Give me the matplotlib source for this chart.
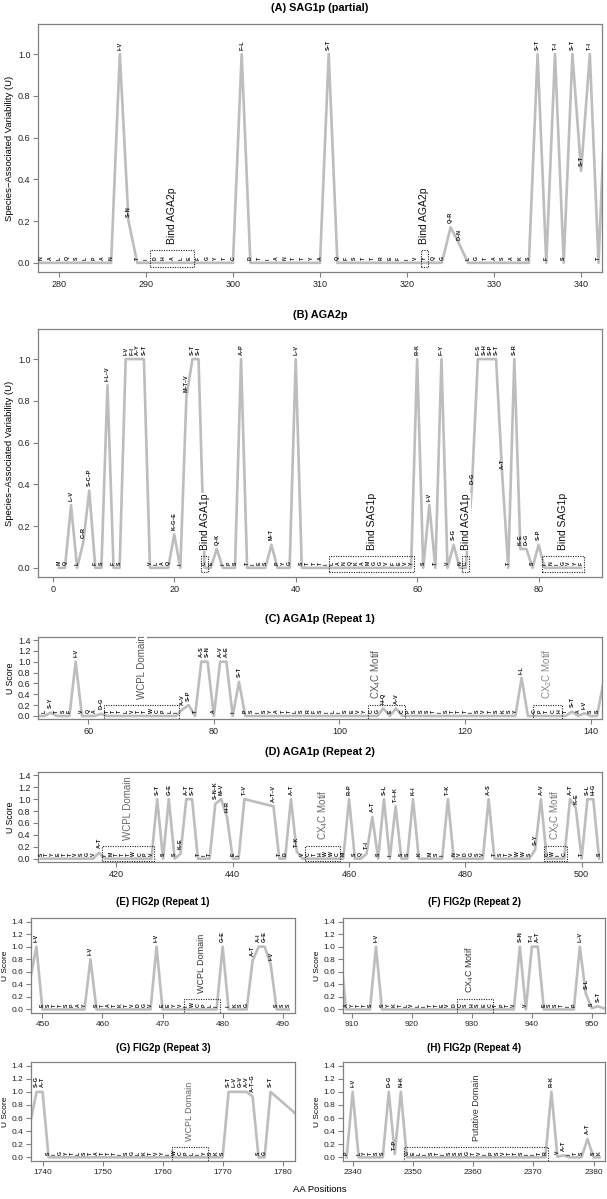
"""Species-associated variability (U) along SAG1p, AGA2p, AGA1p and FIG2p."""

import matplotlib
matplotlib.use("Agg")
import matplotlib.pyplot as plt
import matplotlib.transforms as mtransforms
from matplotlib.patches import Rectangle

plt.rcParams["font.family"] = ["Liberation Sans", "DejaVu Sans"]
plt.rcParams["mathtext.default"] = "regular"

# residues: "." = nothing drawn, "X–Y" = substitution label above the line

# (A) SAG1p (partial), positions 277..343
A_START = 277
A_RES = (". N A L Q S L P A N I–V S–N T I D H A L E F G Y T C F–L D T I A N T T Y A S–T "
         "Q F S T T R E F I V Y Q G Q–R D–N L G T A S A K S S–T F T–I S S–T S–T T–I T .").split()
A_U = [0, 0, 0, 0, 0, 0, 0, 0, 0, 0, 1.0, 0.2,
       0, 0, 0, 0, 0, 0, 0, 0, 0, 0, 0, 0, 1.0,
       0, 0, 0, 0, 0, 0, 0, 0, 0, 1.0,
       0, 0, 0, 0, 0, 0, 0, 0, 0, 0, 0, 0, 0, 0.17, 0.09,
       0, 0, 0, 0, 0, 0, 0, 0,
       1.0, 0, 1.0, 0, 1.0, 0.44, 1.0, 0, 1.0]
A_BOX = [(290.5, 295.5), (321.55, 322.45)]
A_BOX_LAB = ["Bind AGA2p", "Bind AGA2p"]

# (B) AGA2p, positions 1..87
B_START = 1
B_RES = ("M Q L–V L C–R S–C–P F S I–L–V F S I–V F–I A–Y S–T V L A Q K–G–E I M–T–V S–T S–I "
         "C E Q–K I P S A–P T I E S M–T P Y G L–V S T T T I L A N Q K A M G G V F E V Y "
         "R–K S I–V T F–Y V S–G N C D–G F–S S–H S–P S–T A–T T S–R K–E D–G S S–P "
         "I N I G V Y F").split()
B_U = [0, 0, 0.30, 0, 0.12, 0.37, 0, 0, 0.875, 0,
       0, 1.0, 1.0, 1.0, 1.0, 0, 0, 0, 0, 0.16,
       0, 0.82, 1.0, 1.0, 0, 0, 0.09, 0, 0, 0,
       1.0, 0, 0, 0, 0, 0.11, 0, 0, 0, 1.0,
       0, 0, 0, 0, 0,
       0, 0, 0, 0, 0, 0, 0, 0, 0, 0, 0, 0, 0, 0,
       1.0, 0, 0.30, 0, 1.0, 0, 0.11, 0, 0, 0.38,
       1.0, 1.0, 1.0, 1.0, 0.45, 0, 1.0, 0.09, 0.09, 0,
       0.11, 0, 0, 0, 0, 0, 0, 0]
B_BOX = [(24.45, 25.55), (45.5, 59.5), (67.45, 68.55), (80.5, 87.5)]
B_BOX_LAB = ["Bind AGA1p", "Bind SAG1p", "Bind AGA1p", "Bind SAG1p"]

# (C) AGA1p repeat 1, positions 52..142
C_START = 52
C_RES = (". L S–Y T S F I–V V Q A D–G T T T L V T T W C P L I A–V S–P T A–S S–N A A–V A–E "
         "I S–T P S I S Y A T T L S R F S I L I S E V Y C G H–Q E A–V C "
         "P S S S T I S T T T I S V T S K S Y I–L . C P T C H T S–T A I–V S S .").split()
C_U = [0, 0, 0.06, 0, 0, 0, 1.0, 0, 0, 0, 0.04,
       0, 0, 0, 0, 0, 0, 0, 0, 0, 0, 0, 0,
       0.12, 0.2, 0, 1.0, 1.0, 0, 1.0, 1.0, 0, 0.63, 0,
       0, 0, 0, 0, 0, 0, 0, 0, 0, 0, 0, 0, 0, 0, 0, 0, 0, 0, 0,
       0, 0, 0.14, 0, 0.14, 0,
       0, 0, 0, 0, 0, 0, 0, 0, 0, 0, 0, 0, 0, 0, 0, 0, 0, 0,
       0.7, 0, 0, 0, 0, 0, 0, 0, 0.08, 0, 0.05, 0, 0, 0.6]
C_BOX = [(62.5, 74.5), (104.6, 110.5), (130.8, 135.4)]
C_BOX_LAB = ["WCPL Domain", "CX$_4$C Motif", "CX$_2$C Motif"]

# (D) AGA1p repeat 2, positions 407..503 (443-446 not aligned)
D_START = 407
D_RES = ("S T Y E T T V S G V A–T I M T T T W C P V S–T S G–E S K–E A–T S–T T I T "
         "S–N–K M–V H–R E I T–V . . . . A–T–V T D A–T T–K V C T H W W C M R–P S Q T–I "
         "A–T S S–L I T–I–K S S K–I K . M S I T–K N V D G S V A–S T S T V W W S S–Y "
         "A–V C W I C A–T K–E T S–L H–G S").split()
D_U = [0, 0, 0, 0, 0, 0, 0, 0, 0, 0, 0.1,
       0, 0, 0, 0, 0, 0, 0, 0, 0,
       1.0, 0, 1.0, 0, 0.08, 1.0, 1.0, 0, 0, 0, 0.92, 1.0, 0.7, 0, 0, 1.0,
       None, None, None, None,
       0.88, 0, 0, 1.0, 0.12, 0,
       0, 0, 0, 0, 0, 0,
       0, 1.0, 0, 0, 0.08, 0.7, 0, 1.0, 0, 0.88, 0, 0, 1.0, 0, 0, 0, 0, 0, 1.0,
       0, 0, 0, 0, 0, 0, 1.0, 0, 0, 0, 0, 0, 0, 0,
       0.15, 1.0, 0, 0, 0, 0, 1.0, 0.85, 0, 1.0, 1.0, 0]
D_BOX = [(417.5, 426.5), (452.5, 458.5), (493.5, 497.5)]
D_BOX_LAB = ["WCPL Domain", "CX$_4$C Motif", "CX$_2$C Motif"]

# (E)-(H) FIG2p repeats
E_START = 448
E_RES = (". I–V E S T T S P A Y I–V S T A T K T V D G V I–V E E Y V I W C P L I G–E "
         "I K S G A–T A–I G–E I–V S S S").split()
E_U = [0.5, 1.0, 0, 0, 0, 0, 0, 0, 0, 0, 0.8,
       0, 0, 0, 0, 0, 0, 0, 0, 0, 0, 1.0,
       0, 0, 0, 0, 0, 0, 0, 0, 0, 0, 1.0,
       0, 0, 0, 0, 0.78, 1.0, 1.0, 0.72, 0, 0, 0]
E_BOX = [(473.5, 479.5)]
E_BOX_LAB = ["WCPL Domain"]

F_START = 908
F_RES = (". A Y T T S I–V S Y K T L V L I T T E V D C S H S E C T P T V S–N V T–I A–T "
         "E S S T I P L–V S–L S S–T .").split()
F_U = [1.0, 0, 0, 0, 0, 0, 1.0,
       0, 0, 0, 0, 0, 0, 0, 0, 0, 0, 0, 0, 0,
       0, 0, 0, 0, 0, 0, 0, 0, 0, 0,
       1.0, 0, 1.0, 1.0, 0, 0, 0, 0, 0, 0, 1.0, 0.25, 0.02, 0.05, 0.02]
F_BOX = [(927.5, 933.5)]
F_BOX_LAB = ["CX$_4$C Motif"]

G_START = 1738
G_RES = (". S–G A–T S I G Y T L S T A T T T I S G L K T V Y I W C P L I Y S K S "
         "S–T L–V G–V A–V A–T–G S G S–T . . . . .").split()
G_U = [0.55, 1.0, 1.0,
       0, 0, 0, 0, 0, 0, 0, 0, 0, 0, 0, 0, 0, 0, 0, 0, 0, 0, 0, 0, 0,
       0, 0, 0, 0, 0, 0, 0, 0, 0,
       1.0, 1.0, 1.0, 1.0, 0.93, 0, 0, 1.0, None, None, None, None, 0.6]
G_BOX = [(1761.5, 1767.5)]
G_BOX_LAB = ["WCPL Domain"]

H_START = 2339
H_RES = ("P I–V L Y T S S D–G T–P N–K G E L I S T I S S S G T V I P S V T T S I I T R "
         "R–K V A–T I T S A–T S K").split()
H_U = [0, 1.0, 0, 0, 0, 0, 0, 1.0, 0.05, 1.0,
       0, 0, 0, 0, 0, 0, 0, 0, 0, 0, 0, 0, 0, 0, 0, 0, 0, 0, 0, 0, 0, 0, 0, 0,
       1.0, 0.01, 0.03, 0, 0, 0, 0.28, 0, 0]
H_BOX = [(2348.5, 2372.5)]
H_BOX_LAB = ["Putative Domain"]

A_TICKS = [280, 290, 300, 310, 320, 330, 340]
B_TICKS = [0, 20, 40, 60, 80]
C_TICKS = [60, 80, 100, 120, 140]
D_TICKS = [420, 440, 460, 480, 500]
E_TICKS = [450, 460, 470, 480, 490]
F_TICKS = [910, 920, 930, 940, 950]
G_TICKS = [1740, 1750, 1760, 1770, 1780]
H_TICKS = [2340, 2350, 2360, 2370, 2380]
U_TICKS_AB = [0.0, 0.2, 0.4, 0.6, 0.8, 1.0]
U_TICKS = [0.0, 0.2, 0.4, 0.6, 0.8, 1.0, 1.2, 1.4]

LINE = "#bdbdbd"
FRAME = "#808080"
W, H = 607, 1199

fig = plt.figure(figsize=(W / 100, H / 100), dpi=100)


def add_ax(x0, x1, y0, y1):
    # pixel box (from top-left) -> figure fraction
    return fig.add_axes([x0 / W, 1 - y1 / H, (x1 - x0) / W, (y1 - y0) / H])


def panel(ax, start, res, u, boxes, box_lab, box_y, lab_colors, lab_size,
          xlim, ylim, xticks, yticks, tick_size, lab_x=None):
    xs = [start + i for i, v in enumerate(u) if v is not None]
    ys = [v for v in u if v is not None]
    ax.plot(xs, ys, color=LINE, lw=1.9, solid_joinstyle="round", zorder=2)

    let_tr = mtransforms.offset_copy(ax.transData, fig=fig, y=2.5, units="dots")
    mut_tr = mtransforms.offset_copy(ax.transData, fig=fig, y=4.5, units="dots")
    box_tr = mtransforms.offset_copy(ax.transData, fig=fig, y=5.5, units="dots")

    for i, (r, v) in enumerate(zip(res, u)):
        if v is None or r == ".":
            continue
        x = start + i
        if "–" in r:
            ax.text(x, v, r, transform=mut_tr, rotation=90, ha="center", va="bottom",
                    fontsize=4.0, fontweight="bold", color="#111", zorder=5)
        else:
            ax.text(x, v, r, transform=let_tr, rotation=90, ha="center", va="bottom",
                    fontsize=3.7, fontweight="bold", color="#111", zorder=5)

    for j, ((x0, x1), lab) in enumerate(zip(boxes, box_lab)):
        ax.add_patch(Rectangle((x0, box_y[0]), x1 - x0, box_y[1] - box_y[0],
                               fill=False, ls=(0, (1, 1.2)), lw=0.8, ec="#222", zorder=3))
        lx = lab_x[j] if lab_x else (x0 + x1) / 2
        ax.text(lx, box_y[1], lab, transform=box_tr, rotation=90, ha="center",
                va="bottom", fontsize=lab_size, color=lab_colors[j], zorder=4,
                bbox=dict(fc="white", ec="none", pad=0.3))

    ax.set_xlim(*xlim)
    ax.set_ylim(*ylim)
    ax.set_xticks(xticks)
    ax.set_yticks(yticks)
    ax.set_yticklabels([f"{t:.1f}" for t in yticks])
    for s in ax.spines.values():
        s.set_color(FRAME)
        s.set_linewidth(0.9)
    ax.tick_params(length=3.5, width=0.8, color=FRAME, labelsize=tick_size,
                   pad=2, labelcolor="#222")


def title(ax, text, y, size):
    b = ax.get_position()
    fig.text((b.x0 + b.x1) / 2, 1 - y / H, text, ha="center", va="center",
             fontsize=size, fontweight="bold")


YL_AB = (-0.044, 1.144)
YL = (-0.056, 1.456)
UL = "Species−Associated Variability (U)"

axA = add_ax(38, 602, 24, 272)
panel(axA, A_START, A_RES, A_U, A_BOX, A_BOX_LAB, (-0.02, 0.063), ["#111", "#111"], 7.5,
      (277.6, 342.4), YL_AB, A_TICKS, U_TICKS_AB, 6.5)
axA.set_ylabel(UL, fontsize=6.8, labelpad=3)
title(axA, "(A) SAG1p (partial)", 8, 7.8)

axB = add_ax(38, 602, 329, 577)
panel(axB, B_START, B_RES, B_U, B_BOX, B_BOX_LAB, (-0.018, 0.058), ["#111"] * 4, 7.5,
      (-2.44, 90.44), YL_AB, B_TICKS, U_TICKS_AB, 6.5)
axB.set_ylabel(UL, fontsize=6.8, labelpad=3)
title(axB, "(B) AGA2p", 315, 7.8)

axC = add_ax(38, 602, 637, 719)
panel(axC, C_START, C_RES, C_U, C_BOX, C_BOX_LAB, (-0.05, 0.21),
      ["#555", "#555", "#888"], 7, (52.0, 141.8), YL, C_TICKS, U_TICKS, 6.5,
      lab_x=[68.5, 105.8, 133.0])
axC.set_ylabel("U Score", fontsize=6.3, labelpad=2)
title(axC, "(C) AGA1p (Repeat 1)", 619, 7.8)

axD = add_ax(38, 602, 772, 862)
panel(axD, D_START, D_RES, D_U, D_BOX, D_BOX_LAB, (-0.045, 0.22),
      ["#666", "#666", "#777"], 7, (406.5, 503.5), YL, D_TICKS, U_TICKS, 6.5)
axD.set_ylabel("U Score", fontsize=6.3, labelpad=2)
title(axD, "(D) AGA1p (Repeat 2)", 752, 7.8)

axE = add_ax(31, 295, 918, 1013)
panel(axE, E_START, E_RES, E_U, E_BOX, E_BOX_LAB, (-0.05, 0.17), ["#333"], 6.5,
      (448.1, 492.05), YL, E_TICKS, U_TICKS, 6)
axE.set_ylabel("U Score", fontsize=6, labelpad=2)
title(axE, "(E) FIG2p (Repeat 1)", 902, 7)

axF = add_ax(343, 605, 918, 1013)
panel(axF, F_START, F_RES, F_U, F_BOX, F_BOX_LAB, (-0.05, 0.17), ["#333"], 6.5,
      (908.5, 952.2), YL, F_TICKS, U_TICKS, 6, lab_x=[929.6])
axF.set_ylabel("U Score", fontsize=6, labelpad=2)
title(axF, "(F) FIG2p (Repeat 2)", 902, 7)

axG = add_ax(31, 295, 1062, 1161)
panel(axG, G_START, G_RES, G_U, G_BOX, G_BOX_LAB, (-0.05, 0.16), ["#666"], 6.5,
      (1738.07, 1782.07), YL, G_TICKS, U_TICKS, 6)
axG.set_ylabel("U Score", fontsize=6, labelpad=2)
title(axG, "(G) FIG2p (Repeat 3)", 1048, 7)

axH = add_ax(343, 605, 1062, 1161)
panel(axH, H_START, H_RES, H_U, H_BOX, H_BOX_LAB, (-0.05, 0.16), ["#333"], 6.5,
      (2338.4, 2381.9), YL, H_TICKS, U_TICKS, 6)
axH.set_ylabel("U Score", fontsize=6, labelpad=2)
title(axH, "(H) FIG2p (Repeat 4)", 1048, 7)

fig.text(320 / W, 1 - 1190 / H, "AA Positions", ha="center", va="center", fontsize=6.8)

fig.savefig("out.png", dpi=100)
plt.close(fig)
